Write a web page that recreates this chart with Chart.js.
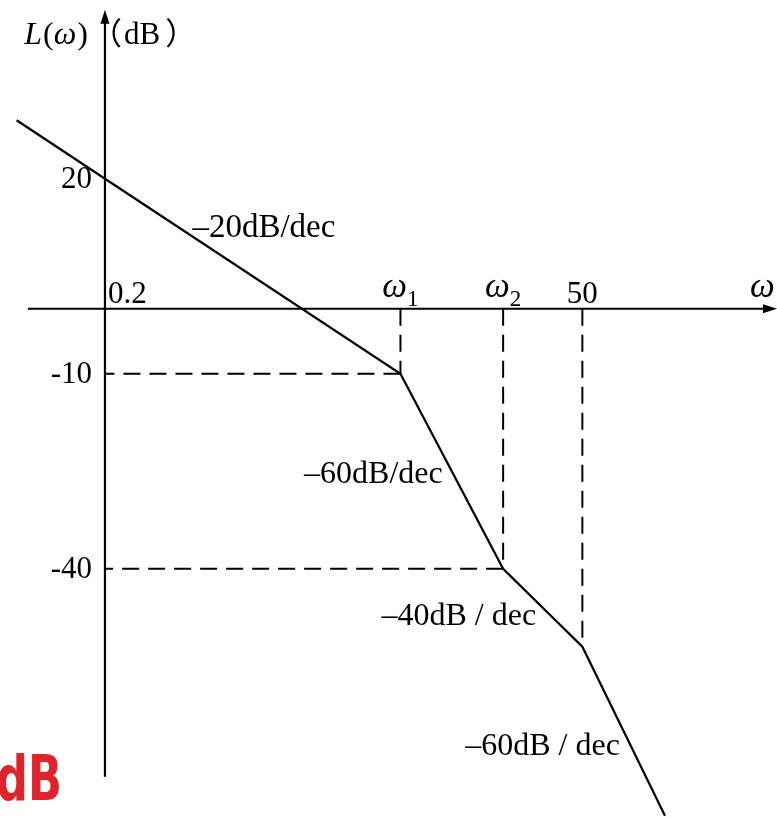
<!DOCTYPE html>
<html>
<head>
<meta charset="utf-8">
<script src="https://cdn.jsdelivr.net/npm/chart.js@4/dist/chart.umd.min.js"></script>
<style>
  html, body { margin: 0; padding: 0; background: #fff; }
  #wrap { width: 777px; height: 819px; position: relative; }
</style>
</head>
<body>
<div id="wrap"><canvas id="bode"></canvas></div>
<script>
// Asymptotic magnitude curve: corner frequencies (rad/s) and gain (dB)
const omega  = [0.072, 0.2, 6.1, 20, 50, 130];
const gainDb = [29, 20, -10, -40, -52, -78];

// Corner points (indices into the arrays above) that get dashed drop lines
const dropCorners  = [2, 3, 4];
// Corner points whose level is also carried across to the L axis
const levelCorners = [2, 3];

// Tick labels
const yTickValues  = [20, -10, -40];
const yTickLabels  = ['20', '-10', '-40'];
const xTickValues  = [0.2, omega[2], omega[3], 50];
const xTickLabels  = [['0.2'], ['ω', '1'], ['ω', '2'], ['50']];

// Slope annotations of each asymptote segment
const slopeLabels  = ['–20dB/dec', '–60dB/dec', '–40dB / dec', '–60dB / dec'];

const SERIF = "'Liberation Serif', 'Times New Roman', serif";
const CJK   = "'Noto Sans CJK SC', 'Liberation Serif', serif";

// main asymptote
const datasets = [{
  data: omega.map((w, i) => ({ x: w, y: gainDb[i] })),
  borderColor: '#000',
  borderWidth: 2.2,
  pointRadius: 0,
  tension: 0,
  showLine: true
}];

// vertical drop lines from the ω axis to each corner
dropCorners.forEach(i => datasets.push({
  data: [{ x: omega[i], y: 0 }, { x: omega[i], y: gainDb[i] }],
  borderColor: '#000', borderWidth: 2, borderDash: [17, 9],
  pointRadius: 0, showLine: true
}));
// horizontal level lines from a corner back to the L axis
levelCorners.forEach(i => datasets.push({
  data: [{ x: omega[i], y: gainDb[i] }, { x: omega[1], y: gainDb[i] }],
  borderColor: '#000', borderWidth: 2, borderDash: [17, 9],
  pointRadius: 0, showLine: true
}));

// draws a run of differently styled text pieces, returns its width
function drawRuns(ctx, parts, x, base, measureOnly) {
  let cx = x;
  parts.forEach(p => {
    ctx.font = p.font;
    if (!measureOnly) ctx.fillText(p.t, cx, base + (p.dy || 0));
    cx += ctx.measureText(p.t).width + (p.gap || 0);
  });
  return cx - x;
}

const bodeOverlay = {
  id: 'bodeOverlay',
  beforeDatasetsDraw(chart) {
    const { ctx, scales: { x, y } } = chart;
    const x0 = x.getPixelForValue(omega[1]);
    const y0 = y.getPixelForValue(0);
    const xL = x.getPixelForValue(0.082);
    const xR = x.getPixelForValue(475);
    const yB = y.getPixelForValue(-72);
    const yT = y.getPixelForValue(46);
    ctx.save();
    ctx.strokeStyle = '#000';
    ctx.fillStyle = '#000';
    ctx.lineWidth = 2.2;
    ctx.beginPath();
    ctx.moveTo(xL, y0); ctx.lineTo(xR - 8, y0);
    ctx.moveTo(x0, yB); ctx.lineTo(x0, yT + 8);
    ctx.stroke();
    // arrowheads
    ctx.beginPath();
    ctx.moveTo(xR, y0); ctx.lineTo(xR - 14, y0 - 4.5); ctx.lineTo(xR - 14, y0 + 4.5);
    ctx.closePath(); ctx.fill();
    ctx.beginPath();
    ctx.moveTo(x0, yT); ctx.lineTo(x0 - 4.5, yT + 14); ctx.lineTo(x0 + 4.5, yT + 14);
    ctx.closePath(); ctx.fill();
    ctx.restore();
  },
  afterDatasetsDraw(chart) {
    const { ctx, scales: { x, y } } = chart;
    const x0 = x.getPixelForValue(omega[1]);
    const y0 = y.getPixelForValue(0);
    const yT = y.getPixelForValue(46);
    const xR = x.getPixelForValue(475);
    ctx.save();
    ctx.fillStyle = '#000';
    ctx.textBaseline = 'alphabetic';
    ctx.textAlign = 'left';

    // axis title L(ω)（dB）
    const title = [
      { t: 'L', font: `italic 32px ${SERIF}`, gap: 1 },
      { t: '(', font: `32px ${SERIF}` },
      { t: 'ω', font: `italic 32px ${SERIF}`, gap: 1 },
      { t: ')', font: `32px ${SERIF}` }
    ];
    const tw = drawRuns(ctx, title, 0, 0, true);
    drawRuns(ctx, title, x0 - 17 - tw, yT + 34);
    drawRuns(ctx, [
      { t: '（', font: `31px ${CJK}`, gap: 2 },
      { t: 'dB', font: `31px ${SERIF}`, gap: 5 },
      { t: '）', font: `31px ${CJK}` }
    ], x0 - 14, yT + 34);

    // L axis ticks
    ctx.font = `31px ${SERIF}`;
    ctx.textAlign = 'right';
    ctx.textBaseline = 'middle';
    yTickValues.forEach((v, i) => {
      ctx.fillText(yTickLabels[i], x0 - 13, y.getPixelForValue(v) + 1);
    });

    // ω axis ticks
    ctx.textAlign = 'left';
    ctx.textBaseline = 'alphabetic';
    xTickValues.forEach((w, i) => {
      const lab = xTickLabels[i];
      const px = x.getPixelForValue(w);
      if (i === 0) {
        ctx.font = `31px ${SERIF}`;
        ctx.fillText(lab[0], px + 3, y0 - 6);
        return;
      }
      const parts = lab.length === 2
        ? [{ t: lab[0], font: `italic 35px ${SERIF}` }, { t: lab[1], font: `23px ${SERIF}`, dy: 9 }]
        : [{ t: lab[0], font: `31px ${SERIF}` }];
      const w0 = drawRuns(ctx, parts, 0, 0, true);
      drawRuns(ctx, parts, px - w0 / 2, y0 - (lab.length === 2 ? 12 : 6));
    });
    ctx.font = `italic 35px ${SERIF}`;
    ctx.fillText('ω', xR - 27, y0 - 12);

    // slope annotations
    const anchors = [[0.55, 11], [2.0, -26.8], [4.9, -48.6], [12.9, -68.6]];
    slopeLabels.forEach((s, i) => {
      ctx.font = (i === 0 ? '33px ' : '32px ') + SERIF;
      ctx.fillText(s, x.getPixelForValue(anchors[i][0]), y.getPixelForValue(anchors[i][1]));
    });

    // handwritten unit note
    ctx.save();
    ctx.translate(-4, y.getPixelForValue(-75.6));
    ctx.scale(0.72, 1);
    ctx.font = `bold 62px 'DejaVu Sans', sans-serif`;
    ctx.fillStyle = '#e0242b';
    ctx.fillText('dB', 0, 0);
    ctx.restore();

    ctx.restore();
  }
};

new Chart(document.getElementById('bode'), {
  type: 'scatter',
  data: { datasets },
  options: {
    responsive: true,
    maintainAspectRatio: false,
    animation: false,
    events: [],
    layout: { padding: 0 },
    plugins: { legend: { display: false }, tooltip: { enabled: false } },
    scales: {
      x: { type: 'logarithmic', min: 0.0594, max: 475, display: false },
      y: { type: 'linear', min: -78.5, max: 47.5, display: false }
    }
  },
  plugins: [bodeOverlay]
});
</script>
</body>
</html>
